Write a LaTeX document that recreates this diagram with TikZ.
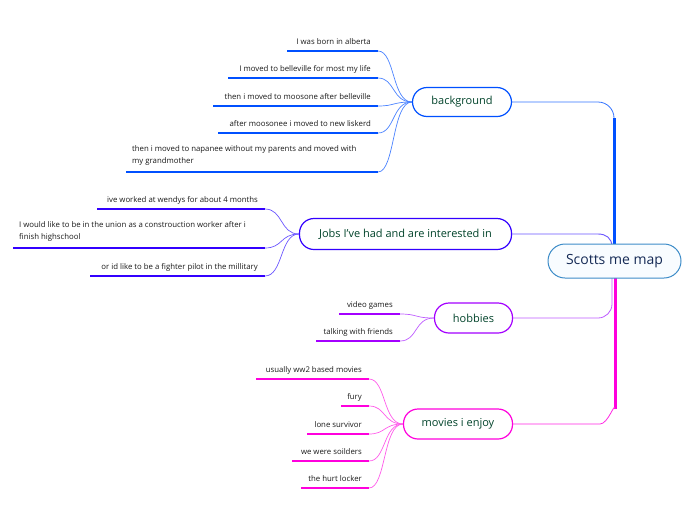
\documentclass[tikz,border=0pt]{standalone}
\usepackage{fontspec}
\setmainfont{Open Sans}
\definecolor{bgc}{HTML}{0050FF}
\definecolor{bgl}{HTML}{4A82FF}
\definecolor{jobcol}{HTML}{3300FF}
\definecolor{joblight}{HTML}{6A55FF}
\definecolor{hbc}{HTML}{A400FF}
\definecolor{hbl}{HTML}{BE5CFF}
\definecolor{mvc}{HTML}{FF00DD}
\definecolor{mvl}{HTML}{FF5CEA}
\definecolor{txg}{HTML}{00432A}
\definecolor{cbd}{HTML}{3D8CC8}
\definecolor{ctx}{HTML}{152A55}
\begin{document}
\begin{tikzpicture}[x=1pt,y=-1pt,
  topic/.style={draw, line width=1.2pt, rounded corners=14.5pt, fill=white, text=txg,
    font=\fontsize{11}{13}\selectfont, inner sep=0pt},
  leaf/.style={anchor=base east, inner sep=0pt, text=black!90, font=\fontsize{7.8}{12}\selectfont},
  leafm/.style={anchor=south west, inner sep=0pt, text=black!90, align=left, font=\fontsize{7.8}{12}\selectfont},
  uline/.style={line width=2pt},
  conn/.style={line width=0.7pt}
]
\useasboundingbox (0,0) rectangle (696,520);

% topics
\node[topic, draw=bgc, minimum width=99pt, minimum height=29pt] (bg) at (462,102) {background};
\node[topic, draw=jobcol, minimum width=212pt, minimum height=31pt] (jb) at (405.5,234) {Jobs I've had and are interested in};
\node[topic, draw=hbc, minimum width=78pt, minimum height=30pt] (hb) at (473.5,318) {hobbies};
\node[topic, draw=mvc, minimum width=109pt, minimum height=30pt] (mv) at (458,424) {movies i enjoy};

% trunk connectors
\coordinate (rtop) at (614,246);
\coordinate (rbot) at (614,276);
\coordinate (bgk) at (598,102);
\coordinate (bgv) at (614,118);
\draw[bgc!80, line width=0.8pt] (bg.east) -- (bgk) to[out=0,in=90] (bgv);
\draw[bgc, line width=3pt] (bgv) -- (rtop);
\coordinate (jbk) at (598,234);
\coordinate (jbv) at (612,247);
\draw[joblight, line width=0.9pt] (jb.east) -- (jbk) .. controls (606,234) and (612,238) .. (jbv);
\coordinate (hbk) at (598,318);
\coordinate (hbv) at (612,304);
\coordinate (hbr) at (612,276);
\draw[hbl, line width=0.8pt] (hb.east) -- (hbk) to[out=0,in=-90] (hbv) -- (hbr);
\coordinate (mvk) at (600,424);
\coordinate (mvv) at (615,409);
\coordinate (mvr) at (615,276);
\draw[mvc, line width=3pt] (mvr) -- (mvv);
\draw[mvc!85, line width=0.8pt] (mvv) to[out=90,in=0] (mvk) -- (mv.east);

% central
\node[draw=cbd, line width=1pt, fill={rgb,255:red,248;green,252;blue,255}, rounded corners=17pt,
  minimum width=133pt, minimum height=34pt, text=ctx, font=\fontsize{14}{16}\selectfont]
  (root) at (614.5,261) {Scotts me map};

% background leaves
\coordinate (b1s) at (287,51);  \coordinate (b1e) at (378,51);
\coordinate (b2s) at (228,78);  \coordinate (b2e) at (378,78);
\coordinate (b3s) at (213,106); \coordinate (b3e) at (378,106);
\coordinate (b4s) at (218,133); \coordinate (b4e) at (378,133);
\coordinate (b5s) at (126,172); \coordinate (b5e) at (378,172);
\node[leaf] (b1) at (371,44) {I was born in alberta};
\node[leaf] (b2) at (371,71) {I moved to belleville for most my life};
\node[leaf] (b3) at (371,99) {then i moved to moosone after belleville};
\node[leaf] (b4) at (371,126) {after moosonee i moved to new liskerd};
\node[leafm] (b5) at (132,166) {then i moved to napanee without my parents and moved with\\my grandmother};
\foreach \i in {1,...,5}{
  \draw[bgc, uline] (b\i s) -- (b\i e);
  \draw[bgl, conn] (b\i e) .. controls (395,0 |- b\i e) and (392,102) .. (bg.west);
}

% jobs leaves
\coordinate (j1s) at (97,209);  \coordinate (j1e) at (265,209);
\coordinate (j2s) at (13,248);  \coordinate (j2e) at (265,248);
\coordinate (j3s) at (90,276);  \coordinate (j3e) at (265,276);
\node[leaf] (j1) at (258,202) {ive worked at wendys for about 4 months};
\node[leafm] (j2) at (19,242) {I would like to be in the union as  a constrouction worker after  i\\finish highschool};
\node[leaf] (j3) at (258,269) {or id like to be a fighter pilot in the millitary};
\foreach \i in {1,2,3}{
  \draw[jobcol, uline] (j\i s) -- (j\i e);
  \draw[joblight, conn] (j\i e) .. controls (283,0 |- j\i e) and (280,234) .. (jb.west);
}

% hobbies leaves
\coordinate (h1s) at (339,314); \coordinate (h1e) at (400,314);
\coordinate (h2s) at (316,341); \coordinate (h2e) at (400,341);
\node[leaf] (h1) at (393,307) {video games};
\node[leaf] (h2) at (393,334) {talking with friends};
\foreach \i in {1,2}{
  \draw[hbc, uline] (h\i s) -- (h\i e);
  \draw[hbl, conn] (h\i e) .. controls (418,0 |- h\i e) and (414,318) .. (hb.west);
}

% movies leaves
\coordinate (m1s) at (256,379); \coordinate (m1e) at (369,379);
\coordinate (m2s) at (341,406); \coordinate (m2e) at (369,406);
\coordinate (m3s) at (307,434); \coordinate (m3e) at (369,434);
\coordinate (m4s) at (292,461); \coordinate (m4e) at (369,461);
\coordinate (m5s) at (301,488); \coordinate (m5e) at (369,488);
\node[leaf] (m1) at (362,372) {usually ww2 based movies};
\node[leaf] (m2) at (362,399) {fury};
\node[leaf] (m3) at (362,427) {lone survivor};
\node[leaf] (m4) at (362,454) {we were soilders};
\node[leaf] (m5) at (362,481) {the hurt locker};
\foreach \i in {1,...,5}{
  \draw[mvc, uline] (m\i s) -- (m\i e);
  \draw[mvl, conn] (m\i e) .. controls (386,0 |- m\i e) and (383,424) .. (mv.west);
}
\end{tikzpicture}
\end{document}
